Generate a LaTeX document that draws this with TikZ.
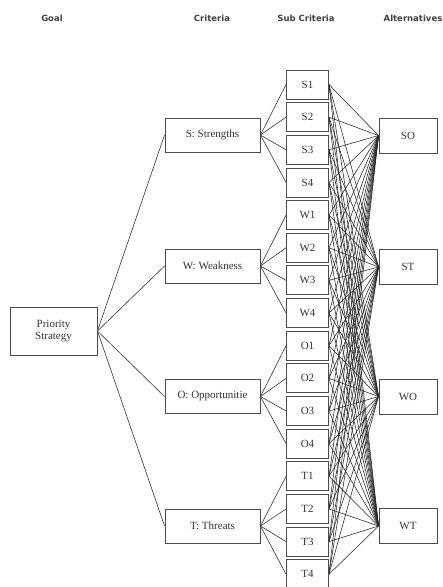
\documentclass[tikz,border=0pt]{standalone}
\usepackage{fontspec}
\setmainfont{Liberation Serif}
\newfontfamily\hdrfont{DejaVu Sans}
\begin{document}
\begin{tikzpicture}[x=1pt,y=-1pt,
  box/.style={draw=black!70,line width=0.9pt,fill=white,inner sep=0pt,text=black!80,font=\fontsize{11}{13}\selectfont,align=center},
  goalbox/.style={box,minimum width=87pt,minimum height=48pt},
  critbox/.style={box,minimum width=95pt,minimum height=34pt},
  subbox/.style={box,minimum width=42pt,minimum height=29pt},
  altbox/.style={box,minimum width=58pt,minimum height=35pt},
  hdr/.style={font=\hdrfont\bfseries\fontsize{8.5}{10}\selectfont,text=black!75,inner sep=0pt},
  link/.style={draw=black!75,line width=0.65pt},
  sublink/.style={draw=black!85,line width=0.55pt}]
\useasboundingbox (0,0) rectangle (443,587);
\fill[white] (0,0) rectangle (443,587);
% headers
\node[hdr] (hgoal) at (52,18) {Goal};
\node[hdr] (hcrit) at (212,18) {Criteria};
\node[hdr] (hsub) at (306,18) {Sub Criteria};
\node[hdr] (halt) at (413,18) {Alternatives};
% node positions
\path
  (53.5,331) node[goalbox] (goal) {Priority\\[-1pt]Strategy}
  (212.5,135) node[critbox] (S) {S: Strengths}
  (212.5,266) node[critbox] (W) {W: Weakness}
  (212.5,396.5) node[critbox] (O) {O: Opportunitie}
  (212.5,526) node[critbox] (T) {T: Threats};
\foreach \lab [count=\i from 0] in {S1,S2,S3,S4,W1,W2,W3,W4,O1,O2,O3,O4,T1,T2,T3,T4}{
  \path (307.5,{84.5+32.65*\i}) node[subbox] (\lab) {\lab};
}
\path
  (408,135.5) node[altbox] (SO) {SO}
  (408,267) node[altbox] (ST) {ST}
  (408,396.5) node[altbox] (WO) {WO}
  (408,526) node[altbox] (WT) {WT};
% connectors
\foreach \c in {S,W,O,T}{ \draw[link] (goal.east) -- (\c.west); }
\foreach \c in {S,W,O,T}{
  \foreach \k in {1,2,3,4}{ \draw[link] (\c.east) -- (\c\k.west); }
}
\foreach \s in {S1,S2,S3,S4,W1,W2,W3,W4,O1,O2,O3,O4,T1,T2,T3,T4}{
  \foreach \a in {SO,ST,WO,WT}{ \draw[sublink] (\s.east) -- (\a.west); }
}
% redraw boxes on top
\path
  (53.5,331) node[goalbox] {Priority\\[-1pt]Strategy}
  (212.5,135) node[critbox] {S: Strengths}
  (212.5,266) node[critbox] {W: Weakness}
  (212.5,396.5) node[critbox] {O: Opportunitie}
  (212.5,526) node[critbox] {T: Threats};
\foreach \lab [count=\i from 0] in {S1,S2,S3,S4,W1,W2,W3,W4,O1,O2,O3,O4,T1,T2,T3,T4}{
  \path (307.5,{84.5+32.65*\i}) node[subbox] {\lab};
}
\path
  (408,135.5) node[altbox] {SO}
  (408,267) node[altbox] {ST}
  (408,396.5) node[altbox] {WO}
  (408,526) node[altbox] {WT};
\end{tikzpicture}
\end{document}
